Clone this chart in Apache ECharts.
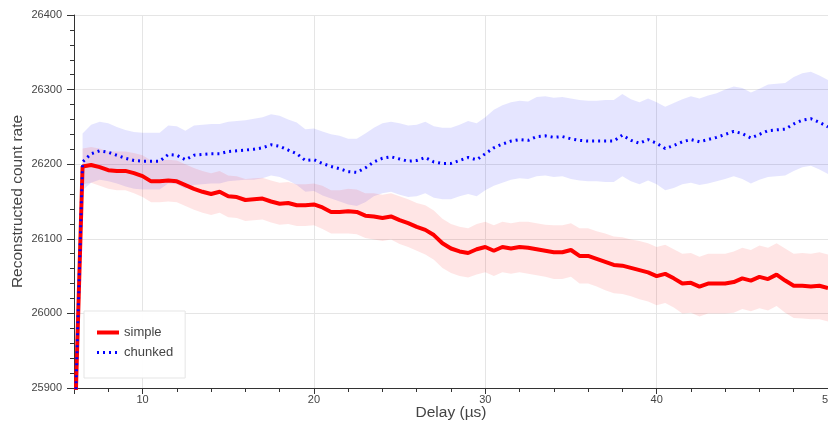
<!DOCTYPE html>
<html>
<head>
<meta charset="utf-8">
<script src="https://cdn.jsdelivr.net/npm/echarts@6/dist/echarts.min.js"></script>
<style>
html,body{margin:0;padding:0;background:#fff;}
#chart{width:828px;height:422px;}
</style>
</head>
<body>
<div id="chart"></div>
<script>
// Delay values (µs)
const delays = [6,6.5,7,7.5,8,8.5,9,9.5,10,10.5,11,11.5,12,12.5,13,13.5,14,14.5,15,
  15.5,16,16.5,17,17.5,18,18.5,19,19.5,20,20.5,21,21.5,22,22.5,23,23.5,24,
  24.5,25,25.5,26,26.5,27,27.5,28,28.5,29,29.5,30,30.5,31,31.5,32,32.5,33,
  33.5,34,34.5,35,35.5,36,36.5,37,37.5,38,38.5,39,39.5,40,40.5,41,41.5,42,
  42.5,43,43.5,44,44.5,45,45.5,46,46.5,47,47.5,48,48.5,49,49.5,50];

// "simple" mean reconstructed count rate
const simpleMean = [25810,
  26197,26199,26196,26192,26191,26191,26188,26184,26177,26177,26178,26177,26172,26167,26163,26160,26163,26157,
  26156,26152,26153,26154,26150,26147,26148,26145,26145,26146,26142,26136,26136,26137,26136,26131,26130,26128,
  26130,26125,26121,26116,26112,26105,26094,26087,26083,26081,26086,26089,26084,26089,26087,26089,26088,26086,
  26084,26082,26082,26085,26077,26077,26073,26069,26065,26064,26061,26058,26055,26050,26053,26047,26040,26041,
  26036,26040,26040,26040,26042,26047,26044,26049,26046,26052,26044,26037,26037,26036,26037,26034];

// "simple" band half-width
const simpleStd = [null,
  24,24,25,25,26,26,27,28,
  28,28,28,28,28,28,28,28,28,28,
  28,28,28,28,28,28,28,28,28,28,
  29,29,29,30,30,30,31,31,31,32,
  32,32,33,33,33,33,33,33,34,34,
  34,34,34,34,35,35,35,36,36,36,
  37,37,37,38,38,38,38,39,39,39,
  39,39,40,40,40,40,40,40,41,41,
  41,42,42,42,43,43,44,44,45,45];

// "chunked" mean reconstructed count rate
const chunkedMean = [25810,
  26203,26214,26218,26216,26212,26208,26205,26204,26204,26204,26213,26212,26206,26212,26213,26214,26214,26217,
  26218,26219,26220,26222,26226,26224,26219,26214,26205,26206,26201,26197,26194,26190,26189,26195,26203,26208,
  26210,26207,26204,26205,26209,26203,26201,26201,26205,26209,26206,26214,26222,26227,26231,26233,26232,26237,
  26238,26236,26237,26234,26232,26231,26231,26231,26231,26239,26232,26228,26233,26228,26221,26225,26230,26233,
  26230,26233,26236,26240,26244,26241,26235,26240,26245,26246,26247,26254,26259,26261,26256,26250];

// "chunked" band half-width
const chunkedStd = [null,
  38,39,39,39,38,38,38,38,
  38,38,39,39,39,40,40,40,40,40,
  40,40,41,41,41,41,41,42,42,42,
  43,43,44,44,45,46,46,47,47,48,
  48,48,48,48,48,48,48,49,49,49,
  51,52,52,52,52,53,53,53,53,54,
  54,54,54,55,55,55,55,55,55,55,
  56,57,57,58,58,59,59,60,60,61,
  61,61,62,62,62,63,63,63,63,63];

const seriesNames = ['simple', 'chunked'];
const yTicks = {min: 25900, max: 26400, step: 100};
const xRange = {min: 6, max: 50};

function pairs(ys) { return delays.map((x, i) => [x, ys[i]]); }
function bandData(mean, sd) {
  const out = [];
  for (let i = 0; i < delays.length; i++) {
    if (sd[i] != null) out.push([delays[i], mean[i] - sd[i], mean[i] + sd[i]]);
  }
  return out;
}
function bandSeries(id, mean, sd, fill) {
  const rows = bandData(mean, sd);
  return {
    id: id, type: 'custom', silent: true, z: 1,
    data: rows,
    encode: {x: 0, y: [1, 2]},
    renderItem: function (params, api) {
      if (params.dataIndex !== 0) return null;
      const up = rows.map(r => api.coord([r[0], r[2]]));
      const lo = rows.map(r => api.coord([r[0], r[1]])).reverse();
      return {type: 'polygon', shape: {points: up.concat(lo)}, style: {fill: fill, stroke: null}};
    }
  };
}

const FONT = '"Liberation Sans", Arial, Helvetica, sans-serif';
const chart = echarts.init(document.getElementById('chart'));

chart.setOption({
  animation: false,
  textStyle: {fontFamily: FONT},
  grid: {left: 74, right: 0, top: 15, bottom: 34, containLabel: false, outerBoundsMode: 'none'},
  legend: {
    data: [
      {name: seriesNames[0], lineStyle: {width: 4, color: '#ff0000'}},
      {name: seriesNames[1], lineStyle: {width: 3, color: '#0000ff', type: [2, 4]}}
    ],
    orient: 'vertical',
    left: 84, top: 311,
    padding: [15, 12, 19, 11],
    itemGap: 7,
    itemWidth: 22, itemHeight: 14,
    backgroundColor: 'rgba(255,255,255,0.95)',
    borderColor: '#e5e5e5', borderWidth: 1,
    itemStyle: {color: 'rgba(0,0,0,0)', borderColor: 'rgba(0,0,0,0)', borderWidth: 0, opacity: 0},
    textStyle: {fontSize: 13, color: '#444', fontFamily: FONT},
    selectedMode: false
  },
  xAxis: [{
    type: 'value', min: xRange.min, max: xRange.max,
    name: 'Delay (µs)', nameLocation: 'middle', nameGap: 17, nameMoveOverlap: false,
    nameTextStyle: {fontSize: 15.5, color: '#444', fontFamily: FONT},
    axisLine: {show: true, lineStyle: {color: '#333', width: 1}},
    axisTick: {show: true, length: 6, lineStyle: {color: '#333'}},
    axisLabel: {fontSize: 11, color: '#444', margin: 6,
      formatter: v => (Math.abs(v % 10) < 1e-9 ? String(v) : '')},
    splitLine: {show: true, lineStyle: {color: '#e5e5e5', width: 1}}
  }, {
    type: 'value', min: xRange.min, max: xRange.max, interval: 2,
    position: 'bottom',
    axisLine: {show: false},
    axisTick: {show: true, length: 4, lineStyle: {color: '#333'}},
    axisLabel: {show: false},
    splitLine: {show: false}
  }],
  yAxis: {
    type: 'value', min: yTicks.min, max: yTicks.max, interval: yTicks.step,
    name: 'Reconstructed count rate', nameLocation: 'middle', nameGap: 48, nameMoveOverlap: false,
    nameTextStyle: {fontSize: 15.5, color: '#444', fontFamily: FONT},
    axisLine: {show: true, lineStyle: {color: '#333', width: 1}},
    axisTick: {show: true, length: 7, lineStyle: {color: '#333'}},
    minorTick: {show: true, splitNumber: 5, length: 4, lineStyle: {color: '#333'}},
    axisLabel: {fontSize: 11, color: '#444', margin: 12, formatter: v => String(v)},
    splitLine: {show: true, lineStyle: {color: '#e5e5e5', width: 1}}
  },
  series: [
    bandSeries('chunkedBand', chunkedMean, chunkedStd, 'rgba(0,0,255,0.1)'),
    bandSeries('simpleBand', simpleMean, simpleStd, 'rgba(255,0,0,0.1)'),
    {name: seriesNames[0], type: 'line', data: pairs(simpleMean), symbol: 'none',
      itemStyle: {color: '#ff0000'},
      lineStyle: {color: '#ff0000', width: 4}, z: 3},
    {name: seriesNames[1], type: 'line', data: pairs(chunkedMean), symbol: 'none',
      itemStyle: {color: '#0000ff'},
      lineStyle: {color: '#0000ff', width: 3, type: [2, 4]}, z: 4}
  ]
});
</script>
</body>
</html>
